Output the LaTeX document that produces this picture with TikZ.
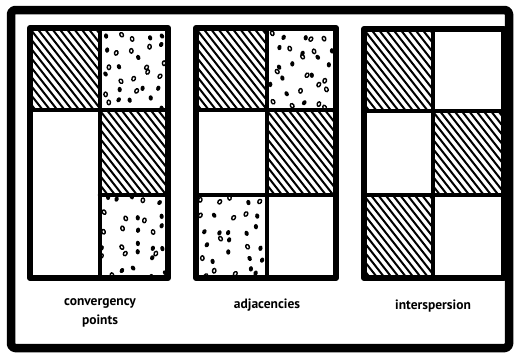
\documentclass[tikz,border=0pt]{standalone}
\usepackage{fontspec}
\setmainfont{PT Sans}
\usetikzlibrary{calc}
\tikzset{
  outerframe/.style={line width=8.5pt, line join=round, rounded corners=4pt},
  panelframe/.style={line width=6pt, line join=round},
  divider/.style={line width=4.5pt, line cap=round},
  hatchline/.style={line width=2pt},
  lbl/.style={font=\bfseries\fontsize{13.5}{19}\selectfont, align=center, inner sep=0pt},
}
\newcommand{\hatchcell}[4]{%
  \begin{scope}
    \clip (#1,#2) rectangle (#3,#4);
    \foreach \i in {-110,-102.7,...,80}{\draw[hatchline] ({#1+\i},#2) -- ++(110,140);}
  \end{scope}}
\newcommand{\dotcell}[4]{%
  \begin{scope}
    \clip (#1,#2) rectangle (#3,#4);
    \foreach \r in {0,...,5}{
      \foreach \c in {0,...,4}{
        \pgfmathsetmacro{\px}{#1+(\c+0.5)*(#3-#1)/5+rand*(#3-#1)/12}
        \pgfmathsetmacro{\py}{#2+(\r+0.5)*(#4-#2)/6+rand*(#4-#2)/15}
        \pgfmathsetmacro{\rot}{rand*40}
        \pgfmathsetmacro{\kind}{rnd}
        \ifdim\kind pt<0.55pt
          \fill[black, rotate around={\rot:(\px,\py)}] (\px,\py) ellipse (2.1 and 2.7);
        \else
          \draw[black, line width=1.4pt, rotate around={\rot:(\px,\py)}] (\px,\py) ellipse (1.7 and 2.3);
        \fi
      }}
  \end{scope}}
\begin{document}
\begin{tikzpicture}[x=1pt,y=-1pt]
\useasboundingbox (0,0) rectangle (517,356);
\pgfmathsetseed{7}
% ---- panel 1: convergency points
\hatchcell{30}{28}{100}{110}
\dotcell{100}{28}{168}{110}
\hatchcell{100}{110}{168}{195}
\dotcell{100}{195}{168}{278}
\draw[divider] (30,110) -- (168,110);
\draw[divider] (100,195) -- (168,195);
\draw[divider] (100,28) -- (100,278);
\draw[panelframe] (30,28) rectangle (168,278);
% ---- panel 2: adjacencies
\hatchcell{196}{28}{267}{110}
\dotcell{267}{28}{336}{110}
\hatchcell{267}{110}{336}{195}
\dotcell{196}{195}{267}{278}
\draw[divider] (196,110) -- (336,110);
\draw[divider] (196,195) -- (336,195);
\draw[divider] (267,28) -- (267,278);
\draw[panelframe] (196,28) rectangle (336,278);
% ---- panel 3: interspersion
\hatchcell{364}{29}{433}{111}
\hatchcell{433}{111}{504}{195}
\hatchcell{364}{195}{433}{278}
\draw[divider] (364,111) -- (504,111);
\draw[divider] (364,195) -- (504,195);
\draw[divider] (433,29) -- (433,278);
\draw[panelframe] (364,29) rectangle (504,278);
% ---- outer frame
\draw[outerframe] (11,10) rectangle (509,348);
% ---- labels
\node[lbl] (l1) at (100,313) {convergency\\points};
\node[lbl] (l2) at (267,305) {adjacencies};
\node[lbl] (l3) at (433,306) {interspersion};
\end{tikzpicture}
\end{document}
